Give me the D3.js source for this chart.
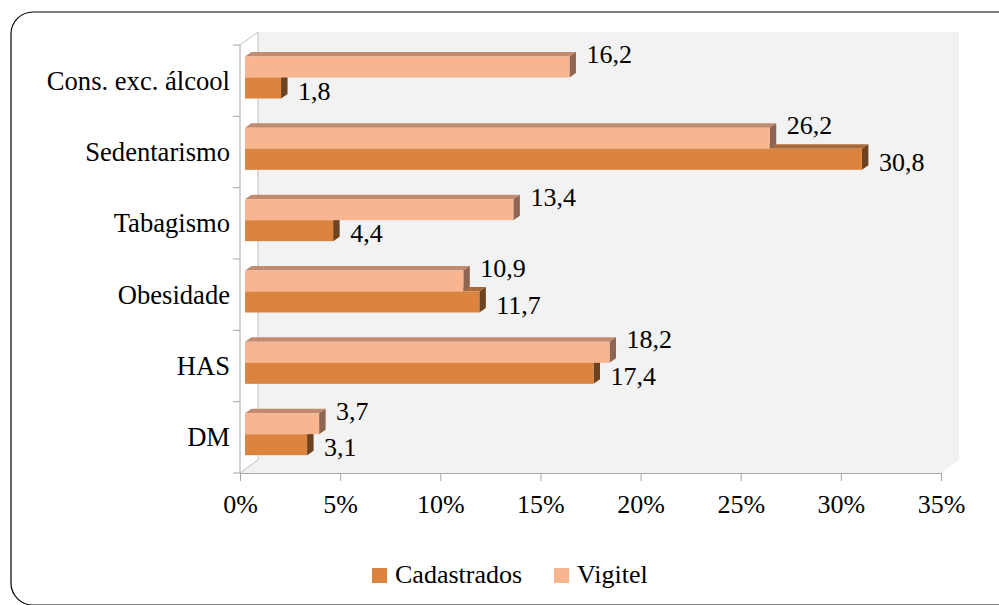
<!DOCTYPE html>
<html>
<head>
<meta charset="utf-8">
<script src="https://cdn.jsdelivr.net/npm/d3@7"></script>
<style>
  html, body { margin: 0; padding: 0; background: #fff; }
  svg { display: block; }
  text { font-family: "Liberation Serif", "Times New Roman", serif; fill: #000; }
</style>
</head>
<body>
<svg id="chart" width="999" height="605" font-family="Liberation Serif, serif"></svg>
<script>
// ---- data ----
const categories = ["Cons. exc. álcool", "Sedentarismo", "Tabagismo", "Obesidade", "HAS", "DM"];
const cadastrados = [1.8, 30.8, 4.4, 11.7, 17.4, 3.1];
const vigitel = [16.2, 26.2, 13.4, 10.9, 18.2, 3.7];
const xTicks = [0, 5, 10, 15, 20, 25, 30, 35];
const seriesNames = ["Cadastrados", "Vigitel"];

const fmt = v => String(v).replace(".", ",");
const FONT = "Liberation Serif, serif";

const svg = d3.select("#chart");

// outer rounded frame
svg.append("rect")
  .attr("x", 11).attr("y", 12).attr("width", 1010).attr("height", 593)
  .attr("rx", 22).attr("ry", 22)
  .attr("fill", "none").attr("stroke", "#000").attr("stroke-width", 1.2);

// scales (front plane)
const x = d3.scaleLinear().domain([0, 35]).range([240, 941]);
const y = d3.scaleBand().domain(categories).range([45, 473]).paddingInner(0).paddingOuter(0);
const ySeries = d3.scaleBand().domain(["Vigitel", "Cadastrados"]).range([11.5, 53.5]);

// wall depth
const D = { dx: 18, dy: -13 };
const x0 = x(0), x1 = x(35), yTop = 45, yBot = 473;

// back wall + floor
svg.append("polygon")
  .attr("points", [[x0 + D.dx, yTop + D.dy], [x1 + D.dx, yTop + D.dy], [x1 + D.dx, yBot + D.dy], [x0 + D.dx, yBot + D.dy]].map(p => p.join(",")).join(" "))
  .attr("fill", "#F2F2F2");
svg.append("polygon")
  .attr("points", [[x0, yBot], [x1, yBot], [x1 + D.dx, yBot + D.dy], [x0 + D.dx, yBot + D.dy]].map(p => p.join(",")).join(" "))
  .attr("fill", "#F2F2F2");

// wall edges
const edge = "#BFBFBF";
svg.append("line").attr("x1", x0 + D.dx).attr("y1", yTop + D.dy).attr("x2", x0 + D.dx).attr("y2", yBot + D.dy).attr("stroke", edge);
svg.append("line").attr("x1", x0).attr("y1", yTop).attr("x2", x0 + D.dx).attr("y2", yTop + D.dy).attr("stroke", edge);
svg.append("line").attr("x1", x0).attr("y1", yBot).attr("x2", x0 + D.dx).attr("y2", yBot + D.dy).attr("stroke", edge);

// axes
const axisColor = "#A6A6A6";
const xAxis = svg.append("g").attr("transform", `translate(0,${yBot})`)
  .call(d3.axisBottom(x).tickValues(xTicks).tickFormat(d => d + "%").tickSize(8).tickSizeOuter(0));
xAxis.attr("font-family", FONT);
xAxis.select(".domain").attr("stroke", axisColor);
xAxis.selectAll(".tick line").attr("stroke", axisColor);
xAxis.selectAll(".tick text").attr("font-size", 26).attr("font-family", FONT).attr("fill", "#000").attr("dy", 0).attr("y", 40);

const yAxisLine = svg.append("g").attr("transform", `translate(${x0},0)`);
yAxisLine.append("line").attr("x1", 0).attr("x2", 0).attr("y1", yTop).attr("y2", yBot).attr("stroke", axisColor);
const boundaries = categories.map(c => y(c)).concat([yBot]);
yAxisLine.selectAll("line.tk").data(boundaries).enter().append("line")
  .attr("class", "tk").attr("x1", -7).attr("x2", 0).attr("y1", d => d).attr("y2", d => d).attr("stroke", axisColor);
yAxisLine.selectAll("text.cat").data(categories).enter().append("text")
  .attr("class", "cat")
  .attr("x", -10).attr("y", d => y(d) + y.bandwidth() / 2 + 9)
  .attr("text-anchor", "end").attr("font-size", 26.6).attr("font-family", FONT)
  .text(d => d);

// bars (3D)
const B = { ox: 5, dx: 6.5, dy: -4.5 };
const colors = {
  Cadastrados: { front: "#DB843F", top: "#A96B3B", side: "#6C4220" },
  Vigitel: { front: "#F9B590", top: "#C08B70", side: "#8E6552" }
};
const rows = [];
categories.forEach((c, i) => {
  rows.push({ cat: c, series: "Cadastrados", value: cadastrados[i] });
  rows.push({ cat: c, series: "Vigitel", value: vigitel[i] });
});

const pts = arr => arr.map(p => p.join(",")).join(" ");
const barG = svg.append("g");
rows.forEach(r => {
  const xa = x(0) + B.ox, xb = x(r.value) + B.ox;
  const yt = y(r.cat) + ySeries(r.series), yb = yt + ySeries.bandwidth();
  const col = colors[r.series];
  const g = barG.append("g");
  g.append("polygon").attr("points", pts([[xa, yt], [xb, yt], [xb + B.dx, yt + B.dy], [xa + B.dx, yt + B.dy]])).attr("fill", col.top);
  g.append("polygon").attr("points", pts([[xb, yt], [xb + B.dx, yt + B.dy], [xb + B.dx, yb + B.dy], [xb, yb]])).attr("fill", col.side);
  g.append("rect").attr("x", xa).attr("y", yt).attr("width", xb - xa).attr("height", yb - yt).attr("fill", col.front);
});

// data labels
const labelDy = { Vigitel: 18, Cadastrados: 54.5 };
svg.append("g").selectAll("text").data(rows).enter().append("text")
  .attr("x", d => x(d.value) + B.ox + 17)
  .attr("y", d => y(d.cat) + labelDy[d.series])
  .attr("font-size", 26).attr("font-family", FONT)
  .text(d => fmt(d.value));

// legend
const legend = svg.append("g");
const legendItems = [
  { name: seriesNames[0], color: colors.Cadastrados.front, x: 372 },
  { name: seriesNames[1], color: colors.Vigitel.front, x: 554 }
];
legendItems.forEach(l => {
  legend.append("rect").attr("x", l.x).attr("y", 568).attr("width", 15).attr("height", 15).attr("fill", l.color);
  legend.append("text").attr("x", l.x + 23).attr("y", 583).attr("font-size", 26).attr("font-family", FONT).text(l.name);
});
</script>
</body>
</html>
